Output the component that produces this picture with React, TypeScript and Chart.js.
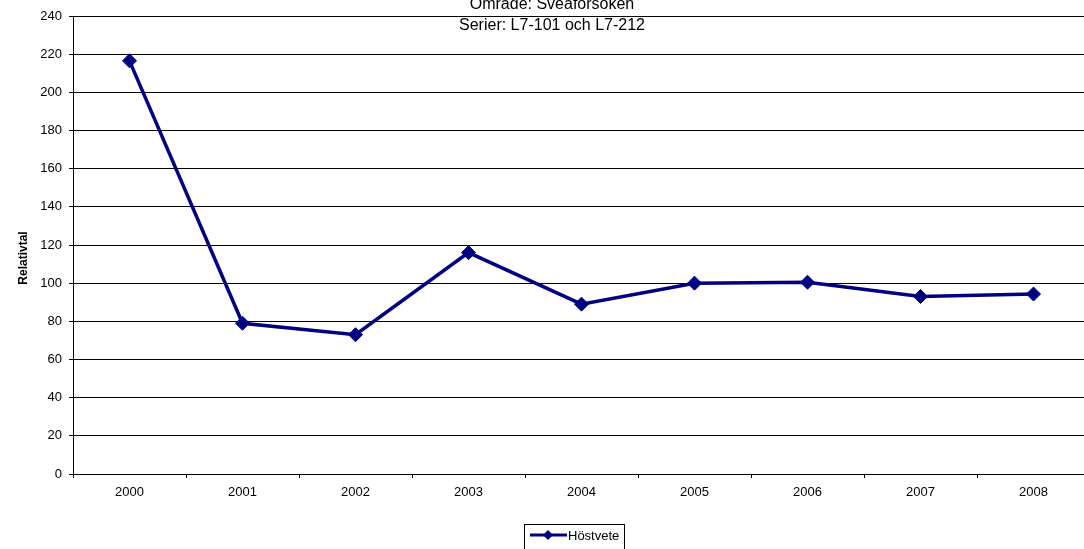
import React, { useEffect, useRef } from "react";
import { Chart, registerables } from "chart.js";

Chart.register(...registerables);

const years = ["2000", "2001", "2002", "2003", "2004", "2005", "2006", "2007", "2008"];
const hostvete = [216.5, 79, 73, 116, 89, 100, 100.5, 93, 94.3];
const seriesLabel = "Höstvete";
const titleLines = ["Område: Sveaförsöken", "Serier: L7-101 och L7-212"];
const yAxisTitle = "Relativtal";
const yMin = 0;
const yMax = 240;
const yStep = 20;

const FONT = '"Liberation Sans", Arial, sans-serif';
const NAVY = "#000080";
const CANVAS_W = 1098;
const CANVAS_H = 560;

const overlayPlugin = {
  id: "overlay",
  afterDraw(chart: any) {
    const ctx = chart.ctx as CanvasRenderingContext2D;
    ctx.save();
    // Title
    ctx.fillStyle = "#000";
    ctx.font = `16px ${FONT}`;
    ctx.textAlign = "center";
    ctx.textBaseline = "middle";
    ctx.fillText(titleLines[0], 552, 5);
    ctx.fillText(titleLines[1], 552, 26);
    // Y axis title
    ctx.save();
    ctx.translate(24, 258);
    ctx.rotate(-Math.PI / 2);
    ctx.font = `bold 12px ${FONT}`;
    ctx.fillText(yAxisTitle, 0, 0);
    ctx.restore();
    // Legend
    ctx.strokeStyle = "#000";
    ctx.lineWidth = 1;
    ctx.strokeRect(524.5, 524.5, 100, 40);
    ctx.strokeStyle = NAVY;
    ctx.lineWidth = 3;
    ctx.beginPath();
    ctx.moveTo(530, 535);
    ctx.lineTo(567, 535);
    ctx.stroke();
    ctx.fillStyle = NAVY;
    ctx.beginPath();
    const cx = 548, cy = 535, r = 5;
    ctx.moveTo(cx - r, cy);
    ctx.lineTo(cx, cy - r);
    ctx.lineTo(cx + r, cy);
    ctx.lineTo(cx, cy + r);
    ctx.closePath();
    ctx.fill();
    ctx.fillStyle = "#000";
    ctx.font = `13px ${FONT}`;
    ctx.textAlign = "left";
    ctx.fillText(seriesLabel, 568, 536);
    ctx.restore();
  },
};

export default function App() {
  const ref = useRef<HTMLCanvasElement | null>(null);
  useEffect(() => {
    if (!ref.current) return;
    const chart = new Chart(ref.current, {
      type: "line",
      data: {
        labels: years,
        datasets: [
          {
            label: seriesLabel,
            data: hostvete,
            borderColor: NAVY,
            backgroundColor: NAVY,
            borderWidth: 3.5,
            pointStyle: "rectRot",
            pointRadius: 7,
            pointBorderWidth: 1,
            pointBackgroundColor: NAVY,
            pointBorderColor: NAVY,
            tension: 0,
          },
        ],
      },
      options: {
        animation: false,
        responsive: false,
        maintainAspectRatio: false,
        layout: { padding: { top: 16, left: 0, right: 0, bottom: 0 } },
        plugins: {
          legend: { display: false },
          title: { display: false },
          tooltip: { enabled: false },
        },
        scales: {
          x: {
            offset: true,
            afterFit: (scale: any) => {
              scale.height = 86;
            },
            grid: {
              offset: true,
              drawOnChartArea: false,
              drawTicks: true,
              tickLength: 4,
              color: "#000",
            },
            border: { color: "#000", width: 1 },
            ticks: {
              color: "#000",
              font: { family: FONT, size: 13 },
              padding: 7,
              maxRotation: 0,
            },
          },
          y: {
            min: yMin,
            max: yMax,
            afterFit: (scale: any) => {
              scale.width = 73;
            },
            grid: {
              color: "#000",
              lineWidth: 1,
              tickLength: 4,
            },
            border: { color: "#000", width: 1 },
            ticks: {
              stepSize: yStep,
              color: "#000",
              font: { family: FONT, size: 13 },
              padding: 7,
            },
          },
        },
      },
      plugins: [overlayPlugin],
    });
    return () => chart.destroy();
  }, []);
  return (
    <div
      style={{
        position: "fixed",
        left: 0,
        top: 0,
        width: 1084,
        height: 549,
        overflow: "hidden",
        background: "#fff",
      }}
    >
      <div style={{ width: CANVAS_W, height: CANVAS_H, position: "relative" }}>
        <canvas
          ref={ref}
          width={CANVAS_W}
          height={CANVAS_H}
          style={{ display: "block", width: CANVAS_W, height: CANVAS_H }}
        />
      </div>
    </div>
  );
}
